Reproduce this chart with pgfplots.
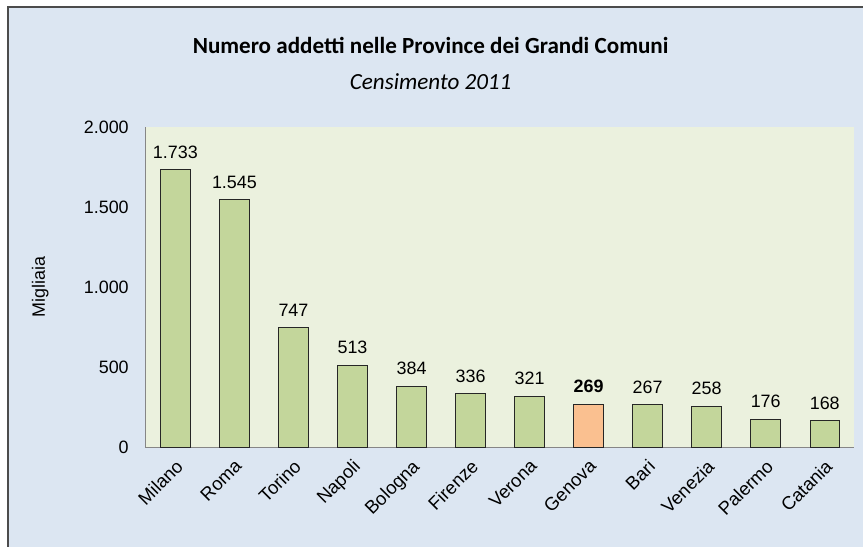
\documentclass[border=0pt]{standalone}
\usepackage{pgfplots}
\pgfplotsset{compat=1.18}
\usepackage{fontspec}
\setmainfont{Liberation Sans}
\newfontfamily\calibri{Carlito}
\definecolor{bgblue}{HTML}{DCE6F2}
\definecolor{plotbg}{HTML}{EBF1DE}
\definecolor{bargreen}{HTML}{C3D69B}
\definecolor{barorange}{HTML}{FAC090}
\definecolor{axgray}{HTML}{868686}
\begin{document}
\begin{tikzpicture}[x=1bp,y=1bp]
\fill[white] (0,0) rectangle (864,547);
\fill[bgblue] (8,0) rectangle (864,540);
\draw[line width=1.5bp, black!70] (8,0) -- (8,540) -- (864,540);
\node[font=\calibri\bfseries\fontsize{23.2}{27}\selectfont, anchor=base] at (431,493) {Numero addetti nelle Province dei Grandi Comuni};
\node[font=\calibri\itshape\fontsize{23.2}{27}\selectfont, anchor=base] at (431,457) {Censimento 2011};
\begin{axis}[
  at={(146bp,99bp)}, anchor=south west, scale only axis,
  width=709bp, height=321bp,
  xmin=-0.5, xmax=11.5, ymin=0, ymax=2000,
  ybar, bar width=0.5, bar shift=0pt,
  axis background/.style={fill=plotbg},
  axis x line*=bottom, axis y line*=left,
  axis line style={axgray, line width=1bp, -},
  xtick={0,...,11},
  xticklabels={Milano,Roma,Torino,Napoli,Bologna,Firenze,Verona,Genova,Bari,Venezia,Palermo,Catania},
  ytick={0,500,1000,1500,2000},
  major tick length=0pt, tick style={draw=none},
  /pgf/number format/1000 sep={.},
  /pgf/number format/assume math mode=true,
  ticklabel style={font=\fontsize{18}{21}\selectfont},
  yticklabel style={inner sep=0pt, xshift=-17bp},
  xticklabel style={font=\fontsize{18.5}{21}\selectfont, rotate=45, anchor=north east, inner sep=0pt, xshift=-8bp, yshift=-7bp},
  nodes near coords,
  every node near coord/.append style={font=\fontsize{18}{21}\selectfont, anchor=south, inner sep=0pt, yshift=11bp},
  ylabel={Migliaia},
  ylabel style={font=\fontsize{18}{21}\selectfont, at={(axis description cs:-0.149,0.5)}, anchor=center},
  clip=false,
]
\addplot[fill=bargreen, draw=black!85, line width=1bp] coordinates {(0,1733) (1,1545) (2,747) (3,513) (4,384) (5,336) (6,321) (8,267) (9,258) (10,176) (11,168)};
\addplot[fill=barorange, draw=black!85, line width=1bp, every node near coord/.append style={font=\fontsize{18}{21}\selectfont\bfseries}] coordinates {(7,269)};
\end{axis}
\end{tikzpicture}
\end{document}
